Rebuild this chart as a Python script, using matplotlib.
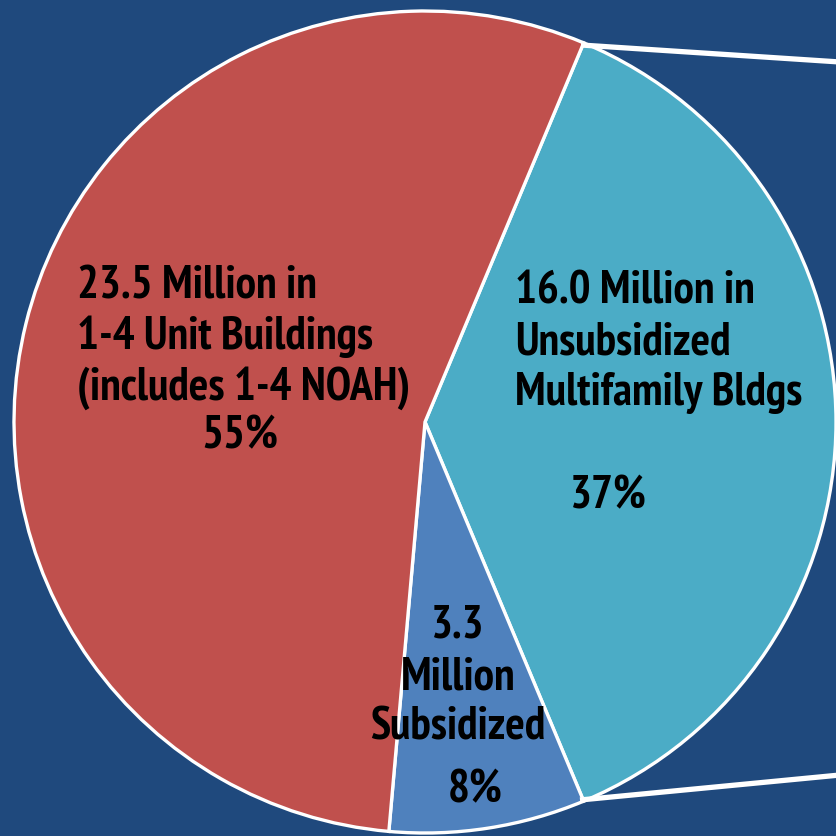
import matplotlib
matplotlib.use("Agg")
import matplotlib.pyplot as plt
from matplotlib import font_manager

# ── Data ─────────────────────────────────────────────────────────────
categories = ["Unsubsidized Multifamily", "Subsidized", "1-4 Unit Buildings"]
values = [16.0, 3.3, 23.5]  # million households
percents = ["37%", "8%", "55%"]
colors = ["#4BACC6", "#4F81BD", "#C0504D"]

red_lines = ["23.5 Million in", "1-4 Unit Buildings", "(includes 1-4 NOAH)"]
teal_lines = ["16.0 Million in", "Unsubsidized", "Multifamily Bldgs"]
blue_lines = ["3.3", "Million", "Subsidized"]

# ── Style ────────────────────────────────────────────────────────────
BG = "#1F497D"
W, H = 837, 836


def pick_font():
    # look for a narrow / condensed bold face (the original uses Arial Narrow Bold)
    fl = font_manager.fontManager.ttflist
    def bold(f):
        w = f.weight
        return (w if isinstance(w, int) else 700 if "bold" in str(w) else 400) >= 600
    prefs = [
        lambda f: "Liberation Sans Narrow" in f.name,
        lambda f: "Narrow" in f.name,
        lambda f: "Condensed" in f.name and "Semi" not in f.name,
        lambda f: f.stretch in ("condensed", 600 - 300) and "Sans" in f.name,
        lambda f: "Condensed" in f.name or "condensed" in str(f.stretch),
    ]
    for p in prefs:
        hits = [f for f in fl if p(f) and bold(f) and "Italic" not in f.fname
                and f.style == "normal"]
        if hits:
            return font_manager.FontProperties(fname=hits[0].fname), True
    return font_manager.FontProperties(family="Roboto", weight="bold"), False


FP, narrow = pick_font()
FS = 33 if narrow else 25

fig = plt.figure(figsize=(W / 100, H / 100), dpi=100, facecolor=BG)
ax = fig.add_axes([0, 0, 1, 1])
ax.set_facecolor(BG)
ax.axis("off")

cx, cy, r = 425, H - 422, 411
start = values[0] / sum(values) * 180
ax.pie(values, colors=colors, startangle=start, counterclock=False,
       center=(cx, cy), radius=r,
       wedgeprops=dict(edgecolor="white", linewidth=2.4))
ax.set_xlim(0, W)
ax.set_ylim(0, H)
ax.set_aspect("equal")

# connector lines to the (cropped) bar-of-pie
ax.plot([581, 840], [H - 45, H - 62], color="white", lw=3.8, solid_capstyle="butt")
ax.plot([580, 840], [H - 800, H - 775], color="white", lw=3.8, solid_capstyle="butt")

FP.set_size(FS)
txt = dict(fontproperties=FP, color="black", va="baseline")

for i, line in enumerate(red_lines):
    ax.text(77, H - (298 + i * 51), line, ha="left", **txt)
ax.text(240, H - 448, percents[2], ha="center", **txt)

for i, line in enumerate(teal_lines):
    ax.text(515, H - (303 + i * 51), line, ha="left", **txt)
ax.text(608, H - 508, percents[0], ha="center", **txt)

for i, line in enumerate(blue_lines):
    ax.text(458, H - (638 + i * 51), line, ha="center", **txt)
ax.text(475, H - 802, percents[1], ha="center", **txt)

fig.savefig("out.png", dpi=100, facecolor=BG)
plt.close()
